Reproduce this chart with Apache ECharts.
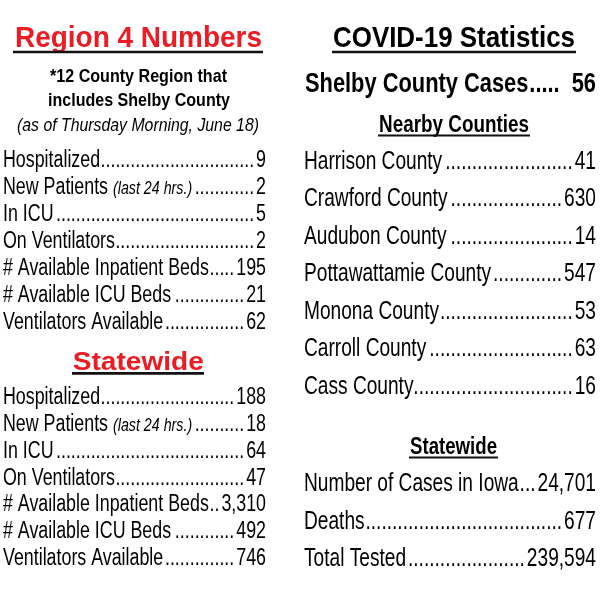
<!DOCTYPE html>
<html>
<head>
<meta charset="utf-8">
<script src="https://cdn.jsdelivr.net/npm/echarts@6/dist/echarts.min.js"></script>
<style>
html,body{margin:0;padding:0;background:#fff;}
#chart{width:600px;height:600px;}
</style>
</head>
<body>
<div id="chart"></div>
<script>
//region 4 numbers
var regionLabels=['Hospitalized','New Patients','In ICU','On Ventilators','# Available Inpatient Beds','# Available ICU Beds','Ventilators Available'];
var regionNotes=['','(last 24 hrs.)','','','','',''];
var regionValues=[9,2,5,2,195,21,62];

//statewide (left)
var stateLabels=['Hospitalized','New Patients','In ICU','On Ventilators','# Available Inpatient Beds','# Available ICU Beds','Ventilators Available'];
var stateNotes=['','(last 24 hrs.)','','','','',''];
var stateValues=[188,18,64,47,3310,492,746];

//covid-19 statistics (right)
var shelbyLabel='Shelby County Cases';
var shelbyValue=56;
var countyNames=['Harrison County','Crawford County','Audubon County','Pottawattamie County','Monona County','Carroll County','Cass County'];
var countyValues=[41,630,14,547,53,63,16];
var iowaLabels=['Number of Cases in Iowa','Deaths','Total Tested'];
var iowaValues=[24701,677,239594];

var FAM="'Liberation Sans', Arial, sans-serif";
var RED='#ec1c24';
var ctx=document.createElement('canvas').getContext('2d');
var els=[];

function $each(arr,fn){for(var i=0;i<arr.length;i++){fn(i,arr[i]);}}
function fontOf(size,o){
    return (o.italic?'italic ':'')+(o.bold?'bold ':'')+size+'px '+FAM;
}
function measure(s,font){
    ctx.font=font;
    return ctx.measureText(s).width;
}
//y is the baseline
function txt(s,x,y,size,o){
    o=o||{};
    var font=fontOf(size,o);
    var sx=o.sx||1;
    if(o.width){sx=o.width/measure(s,font);}
    els.push({
        type:'text',x:x,y:y-size*0.25,scaleX:sx,silent:true,
        style:{text:s,font:font,fill:o.color||'#000',
            align:o.align||'left',textAlign:o.align||'left',
            verticalAlign:'middle',textVerticalAlign:'middle'}
    });
    return measure(s,font)*sx;
}
function uline(x1,x2,y,h){
    els.push({type:'rect',silent:true,shape:{x:x1,y:y-h/2,width:x2-x1,height:h},style:{fill:'#111'}});
}
function fmt(v){return v.toLocaleString('en-US');}

//label ........ value
function row(label,note,value,left,right,base,size,sx,o){
    o=o||{};
    var w=txt(label,left,base,size,{sx:sx,bold:o.bold});
    if(note){
        w+=measure(' ',fontOf(size,{}))*sx;
        w+=txt(note,left+w,base,size*0.8,{sx:sx,italic:true});
    }
    var vw=txt(fmt(value),right,base,size,{sx:sx,bold:o.bold,align:'right'});
    var dw=measure('.',fontOf(size,{bold:o.bold}))*sx;
    var gap=right-vw-2-(left+w+2);
    if(o.dotsLeft){
        //dots hug the label, a space before the value
        var k=Math.floor((gap-4)/dw);
        txt(new Array(k+1).join('.'),left+w+1,base,size,{sx:sx,bold:o.bold});
        return;
    }
    var n=Math.round(gap/dw);
    if(n>0){
        txt(new Array(n+1).join('.'),right-vw-2,base,size,{sx:sx,bold:o.bold,align:'right'});
    }
}

//left column
txt('Region 4 Numbers',138.5,46.7,29,{bold:true,color:RED,align:'center',width:247});
uline(13,263,52,2.7);
txt('*12 County Region that',138.5,81.7,18.6,{bold:true,align:'center',width:177});
txt('includes Shelby County',139,106,18.6,{bold:true,align:'center',width:182});
txt('(as of Thursday Morning, June 18)',138,130.7,18.6,{italic:true,align:'center',width:242});
$each(regionLabels,function(i,l){
    row(l,regionNotes[i],regionValues[i],3,266,166.7+i*26.9,23,0.775);
});
txt('Statewide',138.3,369.3,26,{bold:true,color:RED,align:'center',width:131});
uline(72,204,373.3,2.7);
$each(stateLabels,function(i,l){
    row(l,stateNotes[i],stateValues[i],3,266,403.3+i*26.9,23,0.775);
});

//right column
txt('COVID-19 Statistics',454,46.7,30,{bold:true,align:'center',width:242});
uline(332,576,52,2.7);
row(shelbyLabel,'',shelbyValue,305,596,91.7,28,0.78,{bold:true,dotsLeft:true});
txt('Nearby Counties',454,131.7,23,{bold:true,align:'center',width:150});
uline(378,530,135.5,2);
$each(countyNames,function(i,l){
    row(l,'',countyValues[i],304,596,168.3+i*37.5,25.5,0.75);
});
txt('Statewide',453.5,453.3,23,{bold:true,align:'center',width:87});
uline(409,498,457.5,2);
$each(iowaLabels,function(i,l){
    row(l,'',iowaValues[i],304,596,490.7+i*37.5,25.5,0.75);
});

var myChart=echarts.init(document.getElementById('chart'));
myChart.setOption({
    backgroundColor:'#fff',
    animation:false,
    graphic:{elements:els}
});
</script>
</body>
</html>
